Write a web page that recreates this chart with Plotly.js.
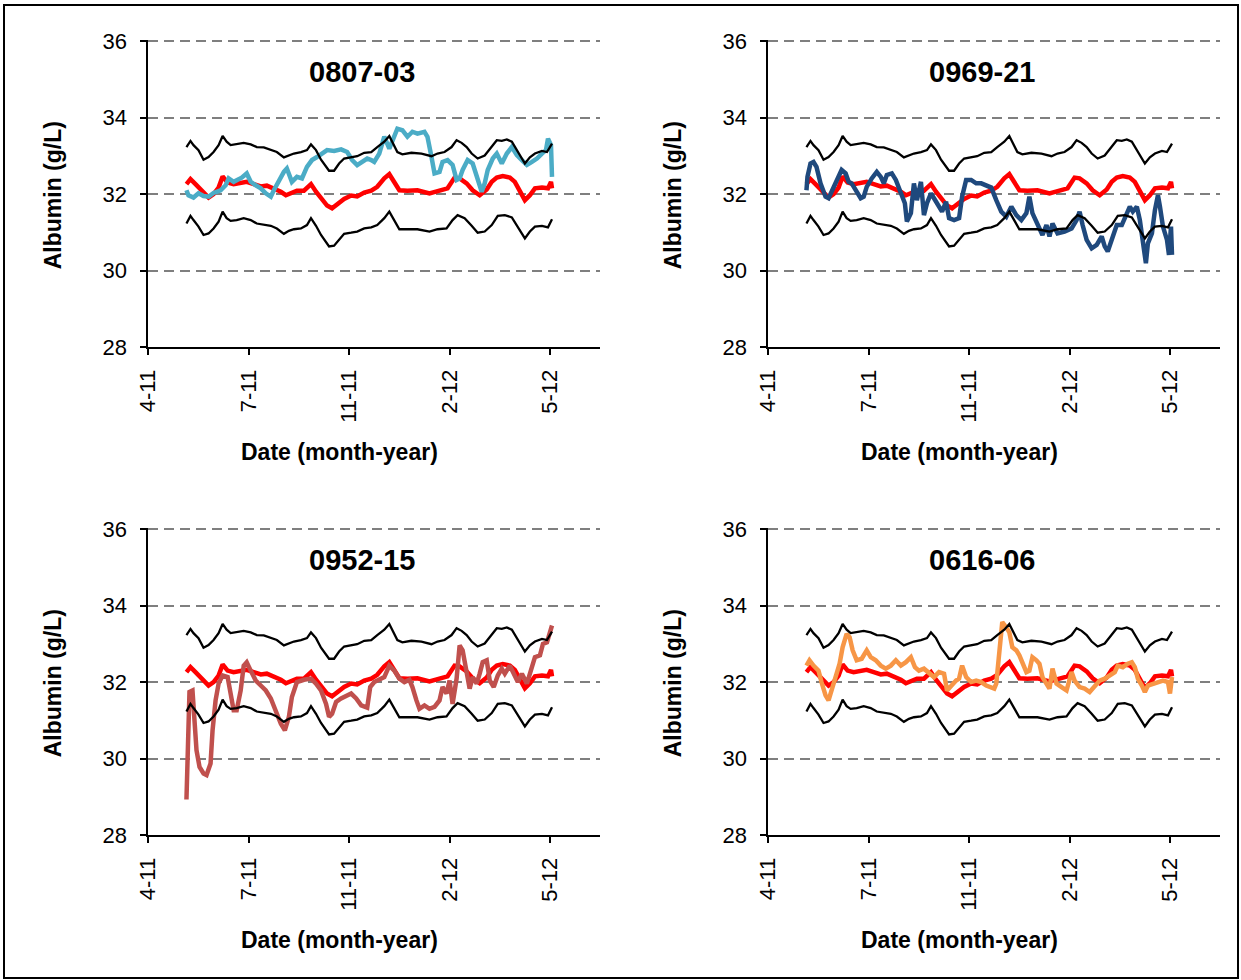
<!DOCTYPE html>
<html>
<head>
<meta charset="utf-8">
<script src="https://cdn.plot.ly/plotly-3.0.1.min.js"></script>
<style>
  html, body { margin: 0; padding: 0; background: #ffffff; }
  #chart { width: 1241px; height: 980px; }
</style>
</head>
<body>
<div id="chart"></div>
<script>
// Days since the start of the x axis (axis origin = 0, ticks every 100 days)
const tickDays = [0, 100, 200, 300, 400];
const tickLabels = ['4-11', '7-11', '11-11', '2-12', '5-12'];
const albuminTicks = [28, 30, 32, 34, 36];

// Reference population: upper limit, lower limit and mean albumin (g/L)
const upperDays = [38,42,45,50,55,60,65,70,74,78,82,88,95,102,108,115,122,128,135,140,145,152,158,162,167,172,177,180,185,190,195,202,208,215,222,228,235,240,243,248,253,262,272,282,288,295,302,307,312,317,322,328,335,342,347,352,357,362,367,372,375,380,385,392,397,402];
const upperAlb = [33.23,33.39,33.28,33.15,32.90,32.97,33.10,33.28,33.52,33.37,33.28,33.30,33.34,33.30,33.23,33.22,33.15,33.10,32.96,33.02,33.06,33.10,33.15,33.30,33.15,32.90,32.71,32.61,32.61,32.80,32.93,32.97,32.99,33.08,33.10,33.23,33.37,33.52,33.37,33.10,33.04,33.08,33.06,32.99,33.06,33.10,33.23,33.41,33.34,33.23,33.06,32.93,33.01,33.23,33.41,33.39,33.43,33.37,33.15,32.93,32.80,32.96,33.06,33.13,33.10,33.32];

const lowerDays = [38,42,45,50,55,60,65,70,74,78,82,88,95,102,108,115,122,128,135,140,145,152,158,162,167,172,177,180,185,190,195,202,208,215,222,228,235,240,245,250,258,268,280,288,297,303,308,315,322,328,335,342,348,355,362,368,375,380,385,392,398,402];
const lowerAlb = [31.23,31.43,31.32,31.15,30.93,30.97,31.10,31.28,31.54,31.37,31.30,31.32,31.37,31.32,31.23,31.19,31.17,31.10,30.96,31.04,31.08,31.10,31.19,31.37,31.17,30.93,30.73,30.63,30.65,30.82,30.96,30.99,31.02,31.10,31.13,31.19,31.37,31.54,31.32,31.08,31.08,31.08,31.02,31.08,31.10,31.32,31.45,31.37,31.17,30.99,31.02,31.19,31.43,31.45,31.39,31.15,30.84,31.02,31.15,31.17,31.13,31.34];

const meanDays = [38,42,47,52,57,60,65,70,74,79,85,92,98,105,112,118,125,132,137,143,148,155,162,167,173,178,183,188,195,202,208,215,222,228,235,240,245,250,258,268,280,288,298,305,310,317,323,330,337,342,347,353,360,365,370,375,380,385,392,398,401,402];
const meanAlb = [32.26,32.39,32.26,32.11,31.96,31.91,32.00,32.17,32.46,32.30,32.26,32.29,32.32,32.26,32.20,32.22,32.15,32.06,31.97,32.04,32.09,32.09,32.26,32.06,31.87,31.70,31.63,31.74,31.87,31.96,31.94,32.04,32.09,32.19,32.41,32.52,32.32,32.10,32.09,32.10,32.02,32.09,32.15,32.43,32.41,32.28,32.10,31.97,32.12,32.32,32.43,32.47,32.43,32.32,32.10,31.84,31.97,32.15,32.17,32.15,32.32,32.15];

// Individual patients
const patientIds = ['0807-03', '0969-21', '0952-15', '0616-06'];
const patientColors = ['#4BACC6', '#1F497D', '#C0504D', '#F79646'];

const days0807 = [38,40,45,50,55,60,65,72,77,80,85,90,93,98,102,107,112,117,122,125,130,135,138,143,148,153,158,163,168,173,178,185,192,198,203,208,213,218,222,225,230,235,240,245,248,253,258,263,268,275,278,282,285,290,293,298,303,307,310,313,318,323,328,332,335,338,343,347,352,357,362,367,372,377,382,387,392,396,398,401,402];
const alb0807 = [32.10,31.97,31.91,32.02,31.95,31.93,32.03,32.10,32.23,32.41,32.32,32.37,32.43,32.54,32.32,32.23,32.15,32.02,31.93,32.10,32.37,32.58,32.67,32.32,32.45,32.41,32.71,32.89,32.97,33.06,33.15,33.13,33.17,33.10,32.89,32.76,32.84,32.93,32.89,32.84,33.06,33.50,33.19,33.50,33.71,33.67,33.50,33.63,33.58,33.63,33.50,32.97,32.54,32.58,32.84,32.89,32.76,32.37,32.41,32.63,32.89,32.80,32.37,32.06,32.28,32.63,32.93,33.06,32.80,33.06,33.23,33.02,32.89,32.76,32.84,32.93,33.06,33.15,33.45,33.28,32.45];

const days0969 = [38,39,42,45,48,52,57,60,63,68,73,77,80,83,88,92,95,98,103,108,112,115,118,123,127,132,136,138,142,145,148,152,155,158,162,165,170,173,177,180,185,190,193,197,202,207,212,217,222,227,232,237,242,247,252,257,260,263,268,273,277,280,283,288,295,302,307,310,313,317,322,327,332,335,338,342,347,352,357,360,363,367,370,373,376,378,382,385,388,390,393,397,399,401,402];
const alb0969 = [32.10,32.45,32.80,32.84,32.71,32.28,31.93,31.89,32.06,32.37,32.63,32.54,32.32,32.28,32.06,31.89,31.93,32.19,32.41,32.58,32.45,32.28,32.50,32.54,32.37,32.02,31.76,31.28,31.50,32.28,31.84,32.32,31.45,31.76,32.02,31.89,31.67,31.54,31.80,31.37,31.32,31.37,31.93,32.37,32.37,32.28,32.28,32.23,32.17,31.84,31.54,31.41,31.67,31.45,31.32,31.50,31.93,31.50,31.23,30.93,31.19,30.89,31.23,30.97,31.02,31.10,31.32,31.54,31.19,30.80,30.58,30.67,30.89,30.63,30.50,30.84,31.19,31.19,31.45,31.67,31.54,31.67,31.32,30.84,30.19,30.71,30.97,31.58,31.97,31.67,31.15,30.80,30.41,31.15,30.41];

const days0952 = [38,39,41,44,46,48,51,55,58,62,64,67,70,74,79,82,85,88,92,95,98,102,107,112,117,122,127,132,136,140,143,148,155,162,167,172,177,180,183,187,192,197,202,207,212,218,221,225,228,235,240,245,250,255,260,263,267,270,275,280,285,290,293,297,300,303,307,310,313,317,320,323,327,330,333,337,340,344,348,352,355,360,363,368,372,377,382,385,390,393,397,399,402];
const alb0952 = [28.93,30.04,31.74,31.78,31.09,30.22,29.78,29.61,29.57,29.87,30.74,31.52,31.96,32.17,32.13,31.61,31.26,31.26,31.78,32.43,32.52,32.30,32.04,31.91,31.78,31.57,31.26,30.91,30.74,31.09,31.61,32.00,32.06,32.09,31.96,31.78,31.43,31.09,31.17,31.48,31.57,31.65,31.70,31.57,31.39,31.33,31.87,32.00,32.04,32.13,32.43,32.30,32.09,32.00,32.06,31.87,31.52,31.30,31.39,31.30,31.35,31.52,31.87,31.70,32.04,31.43,32.09,32.96,32.83,32.30,31.83,32.13,31.96,32.22,32.52,32.57,32.04,31.87,32.17,32.35,32.22,32.43,32.26,32.00,32.22,31.96,32.39,32.65,32.70,33.00,33.04,33.26,33.48];

const days0616 = [38,41,45,50,53,57,60,63,67,71,74,78,81,84,88,93,98,102,107,112,117,122,127,132,137,142,146,150,155,160,165,170,175,178,182,187,190,193,197,202,207,212,217,222,225,227,230,233,237,240,243,247,250,253,257,260,263,267,270,273,277,280,283,287,292,297,302,305,310,315,320,325,330,335,340,345,348,353,358,362,365,368,372,375,378,383,388,393,398,400,402];
const alb0616 = [32.43,32.57,32.43,32.30,32.00,31.65,31.52,31.78,32.09,32.48,32.91,33.26,33.17,32.83,32.57,32.61,32.83,32.65,32.57,32.43,32.35,32.43,32.57,32.43,32.52,32.65,32.39,32.30,32.35,32.22,32.13,32.26,32.22,31.78,31.91,32.04,32.09,32.43,32.13,32.00,32.04,32.00,31.91,31.87,31.83,31.96,32.83,33.57,33.43,33.30,32.91,32.83,32.70,32.48,32.26,32.30,32.65,32.57,32.48,32.13,31.96,31.83,32.35,31.96,31.87,31.78,32.26,32.04,31.87,31.83,31.74,31.87,32.04,32.09,32.17,32.26,32.43,32.39,32.48,32.52,32.39,32.09,31.91,31.74,31.91,31.96,32.00,32.04,32.00,31.70,32.13];

const patientDays = [days0807, days0969, days0952, days0616];
const patientAlb = [alb0807, alb0969, alb0952, alb0616];

// ---- Page geometry (pixels) ----
const W = 1241, H = 980;
const colLeft = [148.3, 768.3];   // plot-area left edge of each column
const plotW = 451.9;
const rowTop = [40, 528];         // plot-area top edge of each row
const plotH = 307;
const fx = px => px / W;
const fy = py => 1 - py / H;

const FONT = 'Liberation Sans, Arial, Helvetica, sans-serif';

const traces = [];
const annotations = [];
const layout = {
  width: W, height: H,
  margin: {l: 0, r: 0, t: 0, b: 0},
  paper_bgcolor: '#ffffff',
  plot_bgcolor: '#ffffff',
  showlegend: false,
  font: {family: FONT, color: '#000000'},
  annotations: annotations,
  shapes: [{
    type: 'rect', xref: 'paper', yref: 'paper',
    x0: fx(4), x1: fx(1238), y0: fy(978), y1: fy(5),
    line: {color: '#000000', width: 2}
  }]
};

patientIds.forEach((id, i) => {
  const col = i % 2, row = Math.floor(i / 2);
  const n = i === 0 ? '' : String(i + 1);
  const xa = 'x' + n, ya = 'y' + n;
  const x0 = colLeft[col], y0 = rowTop[row];

  layout['xaxis' + n] = {
    domain: [fx(x0), fx(x0 + plotW)],
    anchor: ya,
    range: [0, 450],
    tickmode: 'array', tickvals: tickDays, ticktext: tickLabels,
    tickangle: -90,
    ticks: 'outside', ticklen: 6, tickwidth: 2, tickcolor: '#000000',
    ticklabelstandoff: 6,
    showline: true, linecolor: '#000000', linewidth: 2,
    showgrid: false, zeroline: false,
    tickfont: {family: FONT, size: 22, color: '#000000'},
    fixedrange: true
  };
  layout['yaxis' + n] = {
    domain: [fy(y0 + plotH), fy(y0)],
    anchor: xa,
    // a hair above 36 so the top dashed grid line is kept
    range: [28, 36.03],
    tickmode: 'array', tickvals: albuminTicks,
    ticks: 'outside', ticklen: 6, tickwidth: 2, tickcolor: '#000000',
    ticklabelstandoff: 9,
    showline: true, linecolor: '#000000', linewidth: 2,
    showgrid: true, gridcolor: '#7f7f7f', gridwidth: 2, griddash: '10px,6px',
    zeroline: false,
    tickfont: {family: FONT, size: 22, color: '#000000'},
    fixedrange: true
  };

  // population mean, patient, then the two limit lines on top
  traces.push({x: meanDays, y: meanAlb, xaxis: xa, yaxis: ya, type: 'scatter', mode: 'lines',
    line: {color: '#FF0000', width: 4.5}, hoverinfo: 'skip'});
  traces.push({x: patientDays[i], y: patientAlb[i], xaxis: xa, yaxis: ya, type: 'scatter', mode: 'lines',
    line: {color: patientColors[i], width: 4.5}, name: id, hoverinfo: 'skip'});
  traces.push({x: upperDays, y: upperAlb, xaxis: xa, yaxis: ya, type: 'scatter', mode: 'lines',
    line: {color: '#000000', width: 2.3}, hoverinfo: 'skip'});
  traces.push({x: lowerDays, y: lowerAlb, xaxis: xa, yaxis: ya, type: 'scatter', mode: 'lines',
    line: {color: '#000000', width: 2.3}, hoverinfo: 'skip'});

  // panel title
  annotations.push({
    text: '<b>' + id + '</b>', xref: 'paper', yref: 'paper',
    x: fx(x0 + 214), y: fy(y0 + 32), xanchor: 'center', yanchor: 'middle',
    showarrow: false, font: {family: FONT, size: 29, color: '#000000'}
  });
  // axis titles
  annotations.push({
    text: '<b>Albumin (g/L)</b>', xref: 'paper', yref: 'paper',
    x: fx(x0 - 95), y: fy(y0 + 155), xanchor: 'center', yanchor: 'middle',
    textangle: -90, showarrow: false, font: {family: FONT, size: 23, color: '#000000'}
  });
  annotations.push({
    text: '<b>Date (month-year)</b>', xref: 'paper', yref: 'paper',
    x: fx(x0 + 191), y: fy(y0 + 412), xanchor: 'center', yanchor: 'middle',
    showarrow: false, font: {family: FONT, size: 23, color: '#000000'}
  });
});

Plotly.newPlot('chart', traces, layout, {displayModeBar: false, staticPlot: true});
</script>
</body>
</html>
